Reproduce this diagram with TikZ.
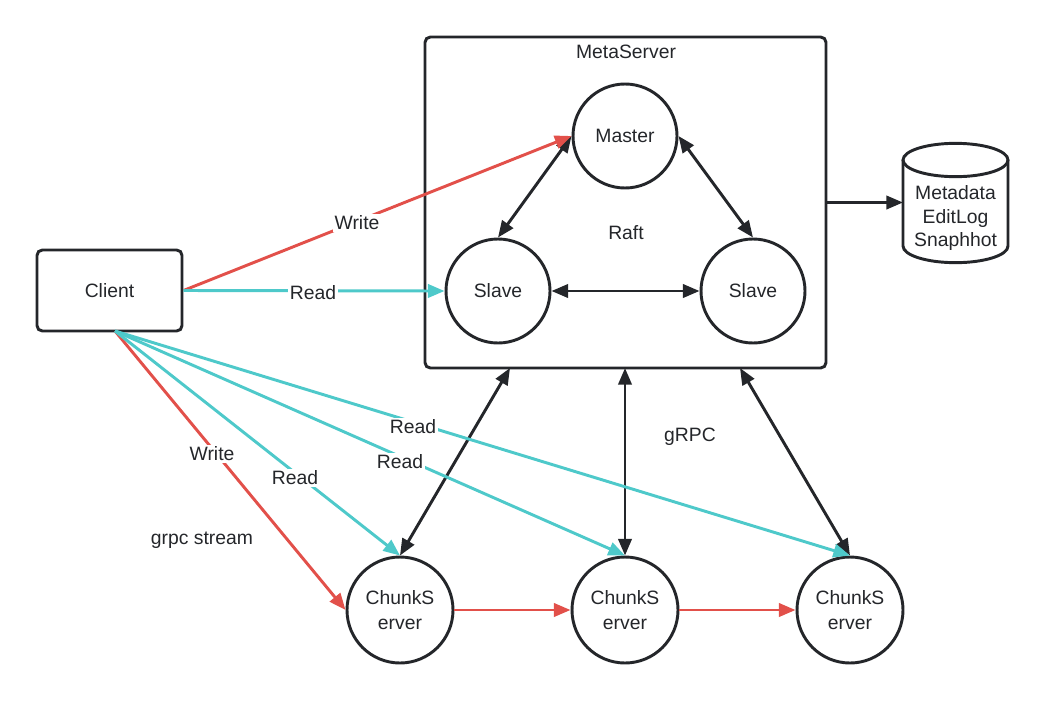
\documentclass[tikz,border=0pt]{standalone}
\usepackage{fontspec}
\setmainfont{Liberation Sans}
\usetikzlibrary{arrows.meta}
\definecolor{wred}{RGB}{226,80,74}
\definecolor{rcyan}{RGB}{78,201,202}
\definecolor{dk}{RGB}{36,38,42}
\begin{document}
\begin{tikzpicture}[x=0.75pt,y=-0.75pt,
  font=\fontsize{14.5}{18.5}\selectfont,
  circ/.style={circle, draw=dk, line width=2.2pt, minimum size=78pt, inner sep=0pt, align=center, text=dk},
  chunk/.style={circ, minimum size=79.5pt},
  box/.style={draw=dk, line width=2.2pt, rounded corners=4pt, text=dk},
  tipa/.style={-{Triangle[length=12.5pt,width=10pt]}},
  bia/.style={{Triangle[length=12.5pt,width=10pt]}-{Triangle[length=12.5pt,width=10pt]}},
  blk/.style={draw=dk, line width=2.2pt, bia},
  wr/.style={draw=wred, line width=2.2pt, tipa},
  rd/.style={draw=rcyan, line width=2.2pt, tipa},
  lbl/.style={fill=white, inner sep=1.5pt, text=dk},
  txt/.style={text=dk}]
\useasboundingbox (0,0) rectangle (1045,700);

% MetaServer box and its contents
\node[box, minimum width=300.75pt, minimum height=248.25pt] (meta) at (625.5,202.5) {};
\node[txt] (metal) at (626,52) {MetaServer};
\node[circ] (master) at (625,136) {Master};
\node[circ] (slaveL) at (498,291) {Slave};
\node[circ] (slaveR) at (753,291) {Slave};
\node[txt] (raft) at (626,233) {Raft};

% Client
\node[box, minimum width=108.75pt, minimum height=60.75pt] (client) at (109.5,290.5) {Client};

% Chunk servers
\node[chunk] (c1) at (400,610) {ChunkS\\erver};
\node[chunk] (c2) at (625,610) {ChunkS\\erver};
\node[chunk] (c3) at (850,610) {ChunkS\\erver};

% Storage cylinder
\draw[dk, line width=2.2pt, fill=white] (903,160) -- (903,246)
  arc[start angle=180, end angle=360, x radius=39.375pt, y radius=12.5pt] -- (1008,160);
\draw[dk, line width=2.2pt] (955.5,160) ellipse [x radius=39.375pt, y radius=12.5pt];
\node[txt, align=center, font=\fontsize{14.5}{17.5}\selectfont] (db) at (955.5,218) {Metadata\\EditLog\\Snaphhot};

% helper coordinates
\coordinate (cs) at (115,331);
\coordinate (m1) at (510,368);
\coordinate (m2) at (625,368);
\coordinate (m3) at (740,368);
\coordinate (cyl) at (903,202.5);

% Raft connections
\draw[blk] (master.west) -- (slaveL.north);
\draw[blk] (master.east) -- (slaveR.north);
\draw[blk] (slaveL.east) -- (slaveR.west);

% MetaServer to storage
\draw[dk, line width=2.2pt, tipa] (meta.east) -- (cyl);

% gRPC connections
\draw[blk] (m1) -- (c1.north);
\draw[blk] (m2) -- (c2.north);
\draw[blk] (m3) -- (c3.north);

% client connections
\draw[wr] (client.east) -- (master.west);
\draw[rd] (client.east) -- (slaveL.west);
\draw[wr] (cs) -- (c1.west);
\draw[rd] (cs) -- (c1.north);
\draw[rd] (cs) -- (c2.north);
\draw[rd] (cs) -- (c3.north);

% chunk replication
\draw[wr] (c1.east) -- (c2.west);
\draw[wr] (c2.east) -- (c3.west);

% labels
\node[lbl] (lw1) at (357,223) {Write};
\node[lbl] (lr1) at (313,293) {Read};
\node[lbl] (lw2) at (212,454) {Write};
\node[lbl] (lr2) at (295,478) {Read};
\node[lbl] (lr3) at (400,462) {Read};
\node[lbl] (lr4) at (413,427) {Read};
\node[txt] (grpcs) at (202,540) {grpc stream};
\node[txt] (grpc) at (690,437) {gRPC};
\end{tikzpicture}
\end{document}
